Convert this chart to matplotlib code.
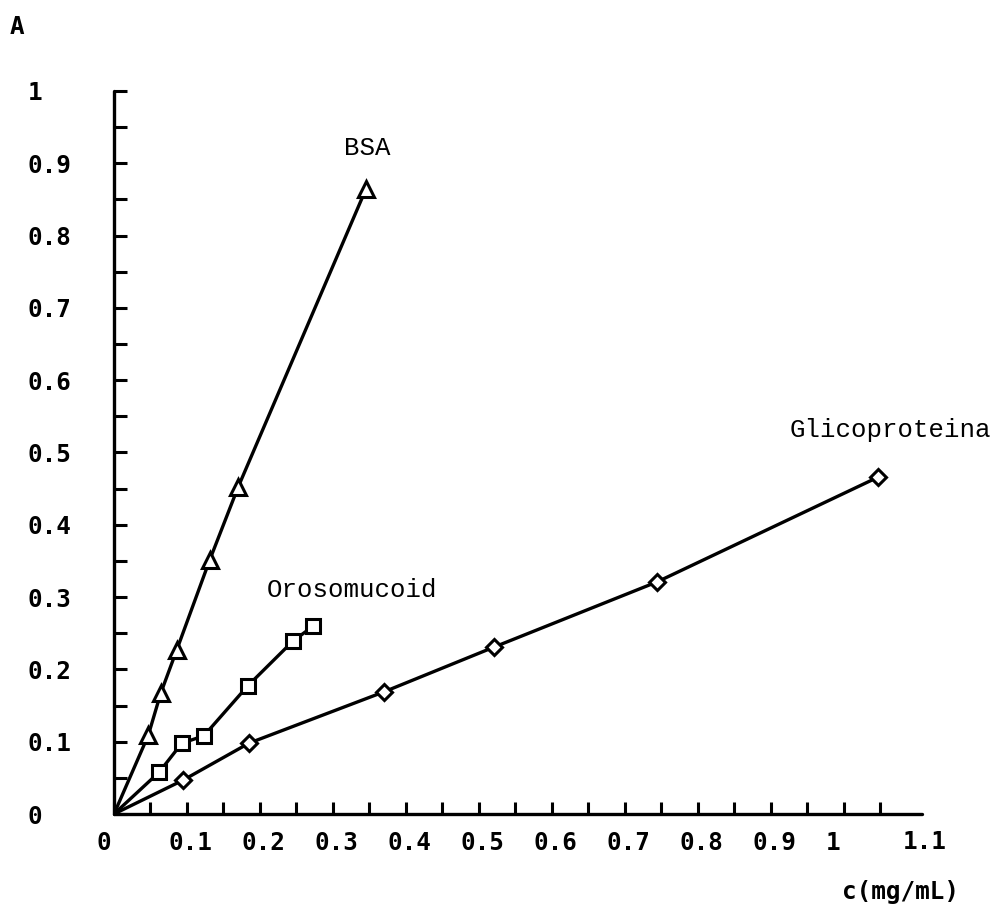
import matplotlib
matplotlib.use("Agg")
import matplotlib.pyplot as plt
from matplotlib.font_manager import FontProperties
from matplotlib.transforms import ScaledTranslation

# Absorbance vs. protein concentration
bsa_c = [0.047, 0.064, 0.086, 0.131, 0.170, 0.345]
bsa_a = [0.109, 0.167, 0.227, 0.351, 0.452, 0.864]

oroso_c = [0.062, 0.093, 0.123, 0.183, 0.245, 0.273]
oroso_a = [0.058, 0.098, 0.108, 0.177, 0.239, 0.260]

glico_c = [0.095, 0.185, 0.370, 0.521, 0.744, 1.047]
glico_a = [0.047, 0.098, 0.169, 0.231, 0.321, 0.466]

x_ticks = [0, 0.1, 0.2, 0.3, 0.4, 0.5, 0.6, 0.7, 0.8, 0.9, 1.0]
x_labels = ["0", "0.1", "0.2", "0.3", "0.4", "0.5", "0.6", "0.7", "0.8", "0.9", "1"]
y_ticks = [0, 0.1, 0.2, 0.3, 0.4, 0.5, 0.6, 0.7, 0.8, 0.9, 1.0]
y_labels = ["0", "0.1", "0.2", "0.3", "0.4", "0.5", "0.6", "0.7", "0.8", "0.9", "1"]

TICK_FONT = dict(family="DejaVu Sans Mono", weight="bold", size=17.5)
NAME_FONT = dict(family="Liberation Mono", size=18.5)

fig = plt.figure(figsize=(9.96, 9.05), dpi=100)
ax = fig.add_axes([114 / 996, 91 / 905, 808 / 996, 723 / 905])
ax.set_xlim(0, 1.107)
ax.set_ylim(0, 1.0)

series = [
    (bsa_c, bsa_a, "^", 11.0),
    (oroso_c, oroso_a, "s", 10.0),
    (glico_c, glico_a, "D", 8.0),
]
for cx, ay, mk, ms in series:
    # each curve starts at the origin
    ax.plot([0.0] + cx, [0.0] + ay, color="black", lw=2.4, zorder=2,
            solid_capstyle="round", solid_joinstyle="round")
    ax.plot(cx, ay, linestyle="none", marker=mk, ms=ms, mfc="white",
            mec="black", mew=2.2, zorder=3, clip_on=False)

ax.text(0.347, 0.921, "BSA", ha="center", va="center", **NAME_FONT)
ax.text(0.326, 0.310, "Orosomucoid", ha="center", va="center", **NAME_FONT)
ax.text(1.063, 0.521, "Glicoproteina", ha="center", va="baseline", **NAME_FONT)

for side in ("top", "right"):
    ax.spines[side].set_visible(False)
for side in ("left", "bottom"):
    ax.spines[side].set_linewidth(2.4)
    ax.spines[side].set_capstyle("round")

ax.set_xticks(x_ticks + [1.05], x_labels + [""])
ax.set_xticks([0.05 + 0.1 * i for i in range(10)], minor=True)
ax.set_yticks(y_ticks, y_labels)
ax.set_yticks([0.05 + 0.1 * i for i in range(10)], minor=True)
ax.tick_params(which="both", direction="in", length=9, width=2.2, color="black")
ax.tick_params(axis="y", which="major", pad=62)
ax.tick_params(axis="x", which="major", pad=12)

for lab in ax.get_yticklabels():
    lab.set_horizontalalignment("left")
    lab.set_fontproperties(FontProperties(**TICK_FONT))

shift = ScaledTranslation(-18 / 100, 0, fig.dpi_scale_trans)
for lab in ax.get_xticklabels():
    lab.set_horizontalalignment("left")
    lab.set_fontproperties(FontProperties(**TICK_FONT))
    lab.set_transform(lab.get_transform() + shift)

# 1.1 label sits at the end of the axis
end_label = ax.text(1.1, 0.0, "1.1", ha="left", va="top", **TICK_FONT)
end_label.set_transform(
    ax.get_xaxis_transform() + ScaledTranslation(-14 / 100, -16 / 100, fig.dpi_scale_trans))

fig.text(17 / 996, 1 - 27 / 905, "A", ha="center", va="center", **TICK_FONT)
fig.text(900 / 996, 1 - 892 / 905, "c(mg/mL)", ha="center", va="center", **TICK_FONT)

fig.savefig("out.png", dpi=100, facecolor="white")
